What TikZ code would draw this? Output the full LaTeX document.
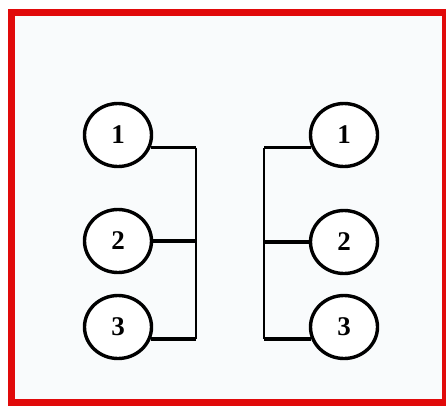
\documentclass[tikz,border=0pt]{standalone}
\usepackage{fontspec}
\setmainfont{Liberation Serif}
\usetikzlibrary{shapes.geometric}
\definecolor{framered}{HTML}{E10A0A}
\definecolor{panel}{HTML}{F9FBFC}
\tikzset{
  ball/.style={ellipse, draw=black, line width=3.4pt, fill=white,
    minimum width=67pt, minimum height=63pt, inner sep=0pt,
    font=\fontsize{27}{27}\selectfont\bfseries},
  stub/.style={line width=3.2pt},
  bus/.style={line width=2pt},
}
\begin{document}
\begin{tikzpicture}[x=1pt,y=-1pt]
  \useasboundingbox (0,0) rectangle (446,405);
  \clip (0,0) rectangle (446,405);
  % panel and red frame
  \fill[white] (0,0) rectangle (446,405);
  \fill[panel] (15,16) rectangle (442,399);
  \draw[framered, line width=7pt] (11.5,12.5) rectangle (445.5,402.5);

  % left group
  \node[ball] (l1) at (118,135) {1};
  \node[ball] (l2) at (118,241) {2};
  \node[ball] (l3) at (118,327) {3};
  \coordinate (lbus) at (196,0);
  \draw[stub] (l1.-21) -- (l1.-21 -| lbus);
  \draw[stub] (l2.0) -- (l2.0 -| lbus);
  \draw[stub] (l3.-20) -- (l3.-20 -| lbus);
  \draw[bus] (l1.-21 -| lbus) -- (l3.-20 -| lbus);

  % right group
  \node[ball] (r1) at (344,135) {1};
  \node[ball] (r2) at (344,242) {2};
  \node[ball] (r3) at (344,327) {3};
  \coordinate (rbus) at (264,0);
  \draw[stub] (r1.-159) -- (r1.-159 -| rbus);
  \draw[stub] (r2.180) -- (r2.180 -| rbus);
  \draw[stub] (r3.-160) -- (r3.-160 -| rbus);
  \draw[bus] (r1.-159 -| rbus) -- (r3.-160 -| rbus);
\end{tikzpicture}
\end{document}
